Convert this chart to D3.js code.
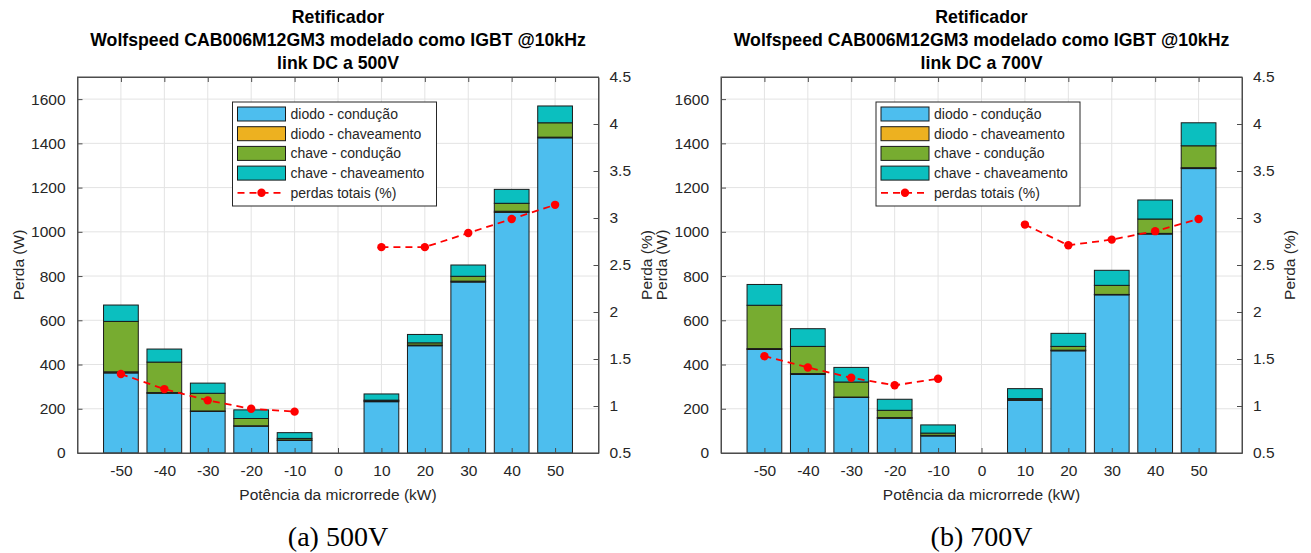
<!DOCTYPE html>
<html>
<head>
<meta charset="utf-8">
<script src="https://cdn.jsdelivr.net/npm/d3@7"></script>
<style>
  html, body { margin: 0; padding: 0; background: #fff; }
  svg { display: block; font-family: "Liberation Sans", Arial, Helvetica, sans-serif; }
</style>
</head>
<body>
<svg id="chart" width="1311" height="553"></svg>
<script>
// Categorias: potência da microrrede (kW)
const potencia = [-50, -40, -30, -20, -10, 0, 10, 20, 30, 40, 50];
const xTicks = [-50, -40, -30, -20, -10, 0, 10, 20, 30, 40, 50];
const yTicksW = [0, 200, 400, 600, 800, 1000, 1200, 1400, 1600];
const yTicksPct = [0.5, 1, 1.5, 2, 2.5, 3, 3.5, 4, 4.5];

const nomesSeries = ["diodo - condução", "diodo - chaveamento", "chave - condução", "chave - chaveamento"];
const nomeLinha = "perdas totais (%)";

// Link DC a 500 V — perdas (W)
const diodoCond500 = [362, 270, 188, 121, 57, 0, 232, 485, 773, 1088, 1425];
const diodoChav500 = [5, 3, 2, 2, 2, 0, 4, 3, 4, 5, 3];
const chaveCond500 = [228, 138, 80, 33, 7, 0, 3, 10, 22, 36, 65];
const chaveChav500 = [74, 59, 46, 39, 26, 0, 28, 38, 51, 63, 76];
const pct500 = [1.34, 1.18, 1.06, 0.97, 0.94, null, 2.69, 2.69, 2.84, 2.99, 3.14];

// Link DC a 700 V — perdas (W)
const diodoCond700 = [468, 355, 251, 157, 77, 0, 238, 462, 715, 990, 1286];
const diodoChav700 = [4, 4, 2, 3, 3, 0, 3, 3, 2, 3, 4];
const chaveCond700 = [196, 123, 68, 33, 10, 0, 5, 17, 41, 65, 99];
const chaveChav700 = [94, 80, 66, 50, 37, 0, 45, 59, 68, 86, 104];
const pct700 = [1.53, 1.41, 1.30, 1.22, 1.29, null, 2.93, 2.71, 2.77, 2.86, 2.99];

const cores = ["#4DBEEE", "#EDB120", "#77AC30", "#0BBFBF"];
const corLinha = "#FF0000";
const corEixo = "#4d4d4d";
const corTexto = "#262626";
const corGrade = "#e3e3e3";

const svg = d3.select("#chart");

const W = 521, H = 376;
// números com hífen simples como sinal de menos
const fmtInt = d => String(d);

function painel(opts) {
  const { x0, y0, titulo, legenda, series, pct } = opts;
  const g = svg.append("g").attr("transform", `translate(${x0},${y0})`);

  const x = d3.scaleLinear().domain([-60, 60]).range([0, W]);
  const y = d3.scaleLinear().domain([0, 1700]).range([H, 0]);
  const yp = d3.scaleLinear().domain([0.5, 4.5]).range([H, 0]);

  // grade
  const grade = g.append("g");
  grade.selectAll("line.gx").data(xTicks).join("line")
    .attr("x1", d => x(d)).attr("x2", d => x(d))
    .attr("y1", 0).attr("y2", H)
    .attr("stroke", corGrade).attr("stroke-width", 1);
  grade.selectAll("line.gy").data(yTicksW).join("line")
    .attr("x1", 0).attr("x2", W)
    .attr("y1", d => y(d)).attr("y2", d => y(d))
    .attr("stroke", corGrade).attr("stroke-width", 1);

  // barras empilhadas
  const linhas = potencia.map((p, i) => ({
    p, s0: series[0][i], s1: series[1][i], s2: series[2][i], s3: series[3][i]
  }));
  const pilha = d3.stack().keys(["s0", "s1", "s2", "s3"])(linhas);
  const bw = x(8) - x(0);
  pilha.forEach((camada, k) => {
    g.append("g").selectAll("rect").data(camada.filter(d => d.data.p !== 0)).join("rect")
      .attr("x", d => x(d.data.p) - bw / 2)
      .attr("width", bw)
      .attr("y", d => y(d[1]))
      .attr("height", d => Math.max(0, y(d[0]) - y(d[1])))
      .attr("fill", cores[k])
      .attr("stroke", "#1a1a1a")
      .attr("stroke-width", 1);
  });

  // linha de perdas totais (%)
  const pts = potencia.map((p, i) => ({ p, v: pct[i] }));
  const linha = d3.line()
    .defined(d => d.v !== null)
    .x(d => x(d.p)).y(d => yp(d.v));
  g.append("path").datum(pts)
    .attr("d", linha)
    .attr("fill", "none")
    .attr("stroke", corLinha)
    .attr("stroke-width", 1.8)
    .attr("stroke-dasharray", "7,5");
  g.append("g").selectAll("circle").data(pts.filter(d => d.v !== null)).join("circle")
    .attr("cx", d => x(d.p)).attr("cy", d => yp(d.v))
    .attr("r", 4.2).attr("fill", corLinha);

  // eixos
  const fs = "15.5px";
  const eixoX = d3.axisBottom(x).tickValues(xTicks).tickSizeInner(-5).tickSizeOuter(0).tickPadding(12)
    .tickFormat(fmtInt);
  const gx = g.append("g").attr("transform", `translate(0,${H})`).call(eixoX);
  const eixoXTop = d3.axisTop(x).tickValues(xTicks).tickSizeInner(-5).tickSizeOuter(0).tickFormat("");
  const gxt = g.append("g").call(eixoXTop);
  const eixoY = d3.axisLeft(y).tickValues(yTicksW).tickSizeInner(-5).tickSizeOuter(0).tickPadding(12)
    .tickFormat(fmtInt);
  const gy = g.append("g").call(eixoY);
  const eixoYP = d3.axisRight(yp).tickValues(yTicksPct).tickSizeInner(-5).tickSizeOuter(0).tickPadding(11)
    .tickFormat(fmtInt);
  const gyp = g.append("g").attr("transform", `translate(${W},0)`).call(eixoYP);

  [gx, gxt, gy, gyp].forEach(a => {
    a.select(".domain").attr("stroke", corEixo).attr("stroke-width", 1);
    a.selectAll(".tick line").attr("stroke", corEixo);
    a.selectAll(".tick text").attr("fill", corTexto)
      .style("font-size", fs).style("font-family", '"Liberation Sans", Arial, sans-serif');
  });

  // moldura
  g.append("rect").attr("x", 0).attr("y", 0).attr("width", W).attr("height", H)
    .attr("fill", "none").attr("stroke", corEixo).attr("stroke-width", 1);

  // rótulos dos eixos
  g.append("text").attr("x", W / 2).attr("y", H + 47)
    .attr("text-anchor", "middle").attr("fill", corTexto).style("font-size", fs)
    .text("Potência da microrrede (kW)");
  g.append("text").attr("transform", `translate(${opts.labelEsq},${H / 2}) rotate(-90)`)
    .attr("text-anchor", "middle").attr("fill", corTexto).style("font-size", fs)
    .text("Perda (W)");
  g.append("text").attr("transform", `translate(${opts.labelDir},${H / 2}) rotate(-90)`)
    .attr("text-anchor", "middle").attr("fill", corTexto).style("font-size", fs)
    .text("Perda (%)");

  // título
  const t = g.append("text").attr("text-anchor", "middle").attr("fill", "#000")
    .style("font-size", "17.7px").style("font-weight", "bold");
  titulo.forEach((l, i) => {
    t.append("tspan").attr("x", W / 2).attr("y", -54 + i * 23).text(l);
  });

  // legenda
  const lx = 155, ly = 25, lw = 204, lh = 104;
  const lg = g.append("g").attr("transform", `translate(${lx},${ly})`);
  lg.append("rect").attr("width", lw).attr("height", lh)
    .attr("fill", "#fff").attr("stroke", "#262626").attr("stroke-width", 1);
  nomesSeries.forEach((nome, i) => {
    const cy = 12 + i * 19.7;
    lg.append("rect").attr("x", 5).attr("y", cy - 7).attr("width", 48).attr("height", 14)
      .attr("fill", cores[i]).attr("stroke", "#1a1a1a").attr("stroke-width", 1);
    lg.append("text").attr("x", 58).attr("y", cy + 5).attr("fill", corTexto)
      .style("font-size", "14px").text(nome);
  });
  const cyl = 12 + 4 * 19.7;
  lg.append("line").attr("x1", 5).attr("x2", 53).attr("y1", cyl).attr("y2", cyl)
    .attr("stroke", corLinha).attr("stroke-width", 1.8).attr("stroke-dasharray", "7,5");
  lg.append("circle").attr("cx", 29).attr("cy", cyl).attr("r", 4.2).attr("fill", corLinha);
  lg.append("text").attr("x", 58).attr("y", cyl + 5).attr("fill", corTexto)
    .style("font-size", "14px").text(nomeLinha);

  // legenda da subfigura
  svg.append("text").attr("x", x0 + W / 2).attr("y", 546)
    .attr("text-anchor", "middle").attr("fill", "#000")
    .style("font-family", '"Liberation Serif", "Times New Roman", serif')
    .style("font-size", "28px").text(legenda);
}

painel({
  x0: 77.5, y0: 77,
  titulo: ["Retificador", "Wolfspeed CAB006M12GM3 modelado como IGBT @10kHz", "link DC a 500V"],
  legenda: "(a) 500V",
  series: [diodoCond500, diodoChav500, chaveCond500, chaveChav500],
  pct: pct500,
  labelEsq: -54, labelDir: W + 53
});

painel({
  x0: 721, y0: 77,
  titulo: ["Retificador", "Wolfspeed CAB006M12GM3 modelado como IGBT @10kHz", "link DC a 700V"],
  legenda: "(b) 700V",
  series: [diodoCond700, diodoChav700, chaveCond700, chaveChav700],
  pct: pct700,
  labelEsq: -54, labelDir: W + 53
});
</script>
</body>
</html>
